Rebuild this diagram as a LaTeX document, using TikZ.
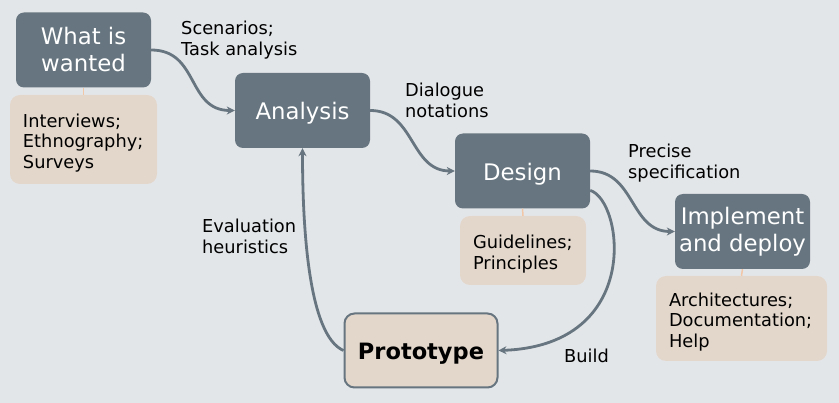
\documentclass[tikz,border=0pt]{standalone}
\usepackage{fontspec}
\setmainfont{DejaVu Sans}
\usetikzlibrary{arrows.meta,calc,positioning}
\definecolor{slate}{HTML}{66757F}
\definecolor{sand}{HTML}{E3D7CB}
\definecolor{paper}{HTML}{E3E6E9}
\definecolor{peach}{HTML}{F2C7A8}
\newcommand{\bigtxt}{\fontsize{22.8}{27}\selectfont}
\newcommand{\smalltxt}{\fontsize{17.8}{20.5}\selectfont}

\begin{document}
\begin{tikzpicture}[x=1pt,y=-1pt,
    stage/.style={fill=slate,rounded corners=8pt,text=white,align=center,
      minimum width=135pt,minimum height=75pt,inner sep=0pt,font=\bigtxt,
      execute at begin node={\rule{0pt}{23pt}}},
    notes/.style={fill=sand,rounded corners=10pt,align=left,inner sep=0pt,font=\smalltxt,
      execute at begin node={\rule{0pt}{20.5pt}}},
    tag/.style={anchor=north west,inner sep=0pt,align=left,font=\smalltxt},
    flow/.style={draw=slate,line width=2.8pt,-{Stealth[length=8pt,width=8pt]}},
    link/.style={draw=peach,line width=1.5pt}]
    %% Background and page size
    \fill[paper] (0,0) rectangle (839,403);
    \useasboundingbox (0,0) rectangle (839,403);
    %% Stages
    \node[stage] (want) at (83.5,50) {What is\\wanted};
    \node[stage] (ana) at (302.5,110.5) {Analysis};
    \node[stage] (des) at (522.5,171) {Design};
    \node[stage] (impl) at (742.5,231.5) {Implement\\and deploy};
    \node[stage,fill=sand,draw=slate,line width=2pt,rounded corners=10pt,text=black,
      minimum width=153pt,minimum height=74pt,font=\fontsize{22.5}{27}\selectfont\bfseries] (proto) at (421,350.5) {Prototype};
    %% Notes under the stages
    \node[notes,minimum width=147pt,minimum height=89pt,text width=121pt] (wantnote) at (83.5,139.5)
      {Interviews;\\Ethnography;\\Surveys};
    \node[notes,minimum width=126pt,minimum height=69pt,text width=100pt] (desnote) at (523,250.5)
      {Guidelines;\\Principles};
    \node[notes,minimum width=171pt,minimum height=85pt,text width=145pt] (implnote) at (741.5,318.5)
      {Architectures;\\Documentation;\\Help};
    \draw[link] (want.south) -- (wantnote.north);
    \draw[link] (des.south) -- (desnote.north);
    \draw[link] (impl.south) -- (implnote.north);
    %% Labels on the arrows
    \node[tag] (scen) at (181,21) {Scenarios;\\Task analysis};
    \node[tag] (dial) at (405,83) {Dialogue\\notations};
    \node[tag] (prec) at (628,144) {Precise\\specification};
    \node[tag] (eval) at (202,219) {Evaluation\\heuristics};
    \node[tag] (build) at (564,349) {Build};
    %% Arrows
    \draw[flow] (want.east) .. controls +(48,0) and +(-48,0) .. (ana.west);
    \draw[flow] (ana.east) .. controls +(45,0) and +(-45,0) .. (des.west);
    \draw[flow] (des.east) .. controls +(45,0) and +(-45,0) .. (impl.west);
    \draw[flow] (des.-16) .. controls +(33,10) and +(145,-5) .. (proto.east);
    \draw[flow] (proto.west) .. controls +(-35,-15) and +(0,80) .. (ana.south);
\end{tikzpicture}
\end{document}
